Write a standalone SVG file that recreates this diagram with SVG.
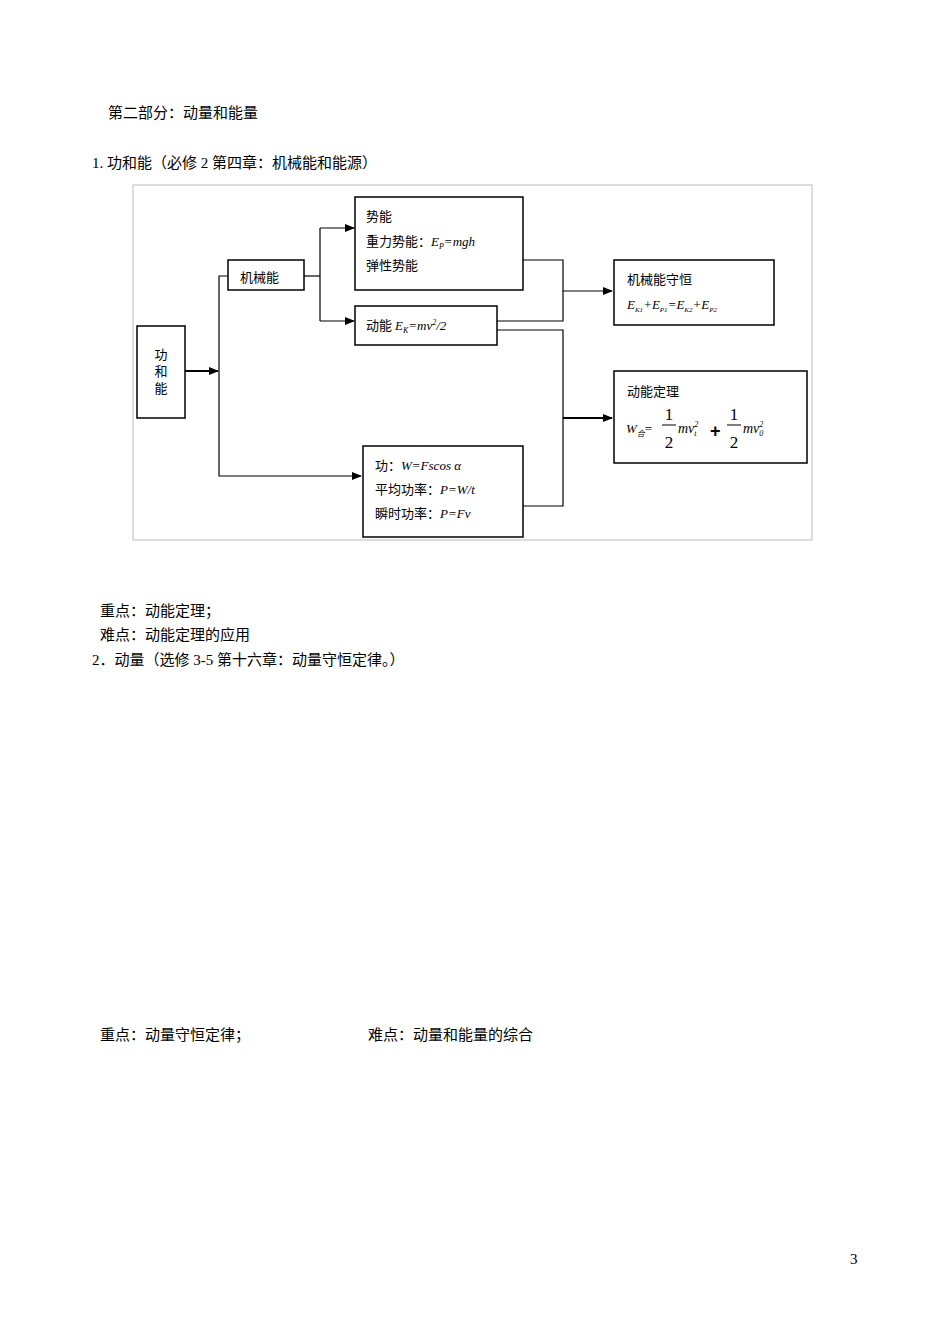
<svg xmlns="http://www.w3.org/2000/svg" width="950" height="1344" viewBox="0 0 950 1344">
<style>
.t{font-family:"Liberation Serif","Noto Sans CJK SC",serif;font-size:15px;fill:#000}
.d{font-family:"Noto Sans CJK SC",sans-serif;font-size:13px;fill:#000}
.m{font-family:"Liberation Serif",serif;font-style:italic;font-size:13px}
.n{font-family:"Liberation Serif",serif;font-size:17px}
.b{fill:#fff;stroke:#000;stroke-width:1.5}
.c{fill:none;stroke:#000;stroke-width:1.2}
</style>
<defs><marker id="a" markerWidth="10" markerHeight="8" refX="9" refY="4" orient="auto" markerUnits="userSpaceOnUse"><path d="M0,0L10,4L0,8z"/></marker></defs>
<rect width="950" height="1344" fill="#fff"/>
<text class="t" x="108" y="118">第二部分：动量和能量</text>
<text class="t" x="92" y="168">1.  功和能（必修 2  第四章：机械能和能源）</text>
<rect x="133" y="185" width="679" height="355" fill="none" stroke="#bbb"/>
<g id="connectors" class="c">
<path d="M185,371H218" marker-end="url(#a)" stroke-width="2"/>
<path d="M228,276H219V476H361" marker-end="url(#a)"/>
<path d="M304,276H320"/>
<path d="M320,228V321"/>
<path d="M320,228H354" marker-end="url(#a)"/>
<path d="M320,321H354" marker-end="url(#a)"/>
<path d="M523,260H563V321H497"/>
<path d="M497,330H563V506H523"/>
<path d="M563,291H612" marker-end="url(#a)"/>
<path d="M563,418H612" marker-end="url(#a)" stroke-width="2"/>
</g>
<g id="n1"><rect class="b" x="137" y="326" width="48" height="92"/><text class="d" x="161" y="359" text-anchor="middle">功</text><text class="d" x="161" y="376" text-anchor="middle">和</text><text class="d" x="161" y="393" text-anchor="middle">能</text></g>
<g id="n2"><rect class="b" x="228" y="260" width="76" height="30"/><text class="d" x="240" y="282">机械能</text></g>
<g id="n3"><rect class="b" x="355" y="197" width="168" height="93"/><text class="d" x="366" y="221">势能</text><text class="d" x="366" y="246">重力势能：<tspan class="m">E</tspan><tspan class="m" style="font-size:8px" dy="3">P</tspan><tspan class="m" dy="-3">=mgh</tspan></text><text class="d" x="366" y="270">弹性势能</text></g>
<g id="n4"><rect class="b" x="355" y="306" width="142" height="39"/><text class="d" x="366" y="330">动能 <tspan class="m">E</tspan><tspan class="m" style="font-size:8px" dy="3">K</tspan><tspan class="m" dy="-3">=mv</tspan><tspan class="m" style="font-size:8px" dy="-5">2</tspan><tspan class="m" dy="5">/2</tspan></text></g>
<g id="n5"><rect class="b" x="363" y="446" width="160" height="91"/><text class="d" x="375" y="470">功：<tspan class="m">W=Fscos α</tspan></text><text class="d" x="375" y="494">平均功率：<tspan class="m">P=W/t</tspan></text><text class="d" x="375" y="518">瞬时功率：<tspan class="m">P=Fv</tspan></text></g>
<g id="n6"><rect class="b" x="614" y="260" width="160" height="65"/><text class="d" x="627" y="284">机械能守恒</text><text class="m" x="627" y="309">E<tspan style="font-size:7px" dy="3">K1</tspan><tspan dy="-3">+E</tspan><tspan style="font-size:7px" dy="3">P1</tspan><tspan dy="-3">=E</tspan><tspan style="font-size:7px" dy="3">K2</tspan><tspan dy="-3">+E</tspan><tspan style="font-size:7px" dy="3">P2</tspan></text></g>
<g id="n7"><rect class="b" x="614" y="371" width="193" height="92"/><text class="d" x="627" y="396">动能定理</text>
<text class="m" x="626" y="433">W<tspan style="font-size:8px" dy="3">合</tspan><tspan dy="-3" style="font-style:normal">=</tspan></text>
<text class="n" x="669" y="420" text-anchor="middle">1</text><line x1="662" y1="425" x2="676" y2="425" stroke="#000"/><text class="n" x="669" y="448" text-anchor="middle">2</text>
<text class="m" x="678" y="433" style="font-size:14px">mv<tspan style="font-size:8px" dy="-6">2</tspan><tspan style="font-size:8px" dx="-4" dy="9">t</tspan></text>
<text x="710" y="437" font-family="Liberation Sans,sans-serif" font-weight="bold" font-size="18">+</text>
<text class="n" x="734" y="420" text-anchor="middle">1</text><line x1="727" y1="425" x2="741" y2="425" stroke="#000"/><text class="n" x="734" y="448" text-anchor="middle">2</text>
<text class="m" x="743" y="433" style="font-size:14px">mv<tspan style="font-size:8px" dy="-6">2</tspan><tspan style="font-size:8px" dx="-4" dy="9">0</tspan></text></g>
<text class="t" x="100" y="616">重点：动能定理；</text>
<text class="t" x="100" y="640">难点：动能定理的应用</text>
<text class="t" x="92" y="665">2．动量（选修 3-5  第十六章：动量守恒定律。）</text>
<text class="t" x="100" y="1040">重点：动量守恒定律；</text>
<text class="t" x="368" y="1040">难点：动量和能量的综合</text>
<text class="t" x="850" y="1264">3</text>
</svg>
